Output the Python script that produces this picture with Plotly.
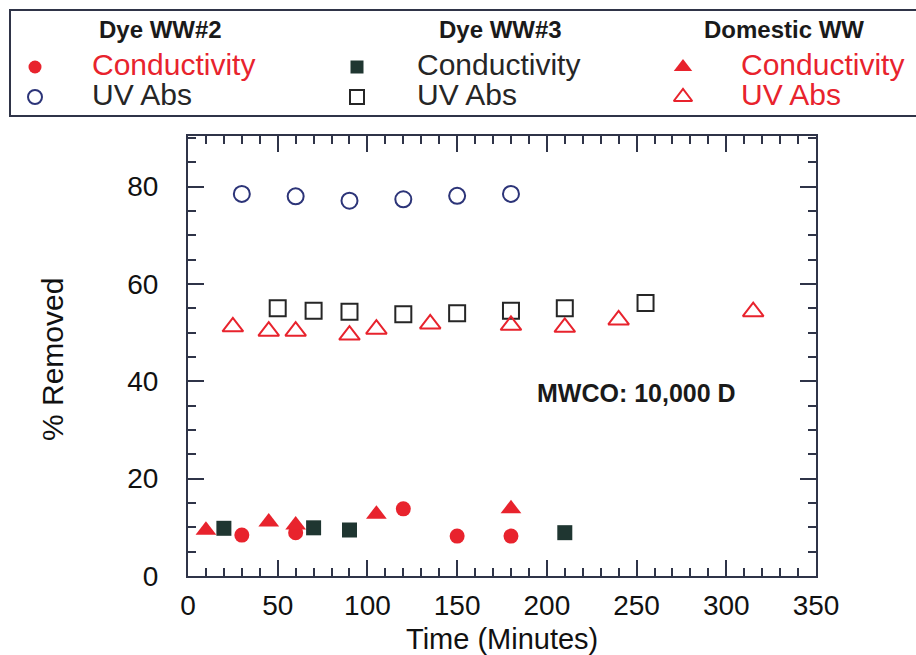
import plotly.graph_objects as go

# ---- data: % removed vs time (minutes), MWCO 10,000 D ----
dye2_cond_t = [30, 60, 120, 150, 180]
dye2_cond = [8.4, 8.9, 13.8, 8.2, 8.2]
dye2_uv_t = [30, 60, 90, 120, 150, 180]
dye2_uv = [78.5, 78.0, 77.1, 77.4, 78.1, 78.5]

dye3_cond_t = [20, 70, 90, 210]
dye3_cond = [9.8, 9.9, 9.45, 8.9]
dye3_uv_t = [50, 70, 90, 120, 150, 180, 210, 255]
dye3_uv = [55.0, 54.5, 54.3, 53.8, 54.0, 54.5, 55.0, 56.1]

dom_cond_t = [10, 45, 60, 105, 180]
dom_cond = [9.4, 11.1, 10.5, 12.7, 13.8]
dom_uv_t = [25, 45, 60, 90, 105, 135, 180, 210, 240, 315]
dom_uv = [51.2, 50.3, 50.3, 49.5, 50.7, 51.8, 51.5, 51.1, 52.6, 54.3]

groups = ["Dye WW#2", "Dye WW#3", "Domestic WW"]
row_labels = ["Conductivity", "UV Abs"]

RED = "#e8232d"
NAVY = "#2c3478"
SLATE = "#1f3631"
DARK = "#262626"
AXIS = "#2f3448"
FONT = "Liberation Sans, Arial, sans-serif"

W, H = 916, 655
# plot frame in page pixels
L, R, T, B = 188, 816, 136, 576

styles = [
    # (filled marker, open marker, label colours)
    (dict(symbol="circle", size=15, color=RED),
     dict(symbol="circle-open", size=16, color=NAVY, line=dict(width=2)),
     [RED, DARK]),
    (dict(symbol="square", size=15, color=SLATE),
     dict(symbol="square-open", size=16, color=DARK, line=dict(width=2)),
     [DARK, DARK]),
    (dict(symbol="triangle-up", size=18, color=RED),
     dict(symbol="triangle-up-open", size=18, color=RED, line=dict(width=2)),
     [RED, RED]),
]

series = [
    ((dye2_cond_t, dye2_cond), (dye2_uv_t, dye2_uv)),
    ((dye3_cond_t, dye3_cond), (dye3_uv_t, dye3_uv)),
    ((dom_cond_t, dom_cond), (dom_uv_t, dom_uv)),
]

fig = go.Figure()

for g, (st, (cond, uv)) in enumerate(zip(styles, series)):
    fig.add_trace(go.Scatter(x=uv[0], y=uv[1], mode="markers", marker=st[1],
                             name=groups[g] + " " + row_labels[1], showlegend=False))
    fig.add_trace(go.Scatter(x=cond[0], y=cond[1], mode="markers", marker=st[0],
                             name=groups[g] + " " + row_labels[0], showlegend=False))

# ---- key box above the plot, laid out on a page-pixel subplot (x2/y2) ----
col_marker_x = [35, 357, 683]
col_text_x = [90, 415, 739]
col_head_x = [97, 437, 702]
row_marker_y = [67, 97]
row_text_y = [64, 94]
head_y = 29

annotations = []
shapes = [dict(type="rect", xref="x2", yref="y2", x0=10, x1=930, y0=10, y1=116,
               line=dict(color=AXIS, width=2), fillcolor="rgba(0,0,0,0)")]

for g, st in enumerate(styles):
    annotations.append(dict(xref="x2", yref="y2", x=col_head_x[g], y=head_y,
                            xanchor="left", yanchor="middle", showarrow=False,
                            text="<b>" + groups[g] + "</b>",
                            font=dict(family=FONT, size=24, color="#1a1a1a")))
    for r in range(2):
        mk = dict(st[r])
        mk["size"] = mk["size"] - 2
        fig.add_trace(go.Scatter(x=[col_marker_x[g]], y=[row_marker_y[r]], mode="markers",
                                 marker=mk, xaxis="x2", yaxis="y2",
                                 showlegend=False, hoverinfo="skip"))
        annotations.append(dict(xref="x2", yref="y2", x=col_text_x[g], y=row_text_y[r],
                                xanchor="left", yanchor="middle", showarrow=False,
                                text=row_labels[r],
                                font=dict(family=FONT, size=30, color=st[2][r])))

# axis titles and note
annotations.append(dict(xref="x2", yref="y2", x=52, y=360,
                        xanchor="center", yanchor="middle", showarrow=False,
                        text="% Removed", textangle=-90,
                        font=dict(family=FONT, size=30, color="#111")))
annotations.append(dict(xref="x2", yref="y2", x=502, y=639,
                        xanchor="center", yanchor="middle", showarrow=False,
                        text="Time (Minutes)",
                        font=dict(family=FONT, size=29, color="#111")))
annotations.append(dict(xref="x", yref="y", x=250, y=37.6,
                        xanchor="center", yanchor="middle", showarrow=False,
                        text="<b>MWCO: 10,000 D</b>",
                        font=dict(family=FONT, size=25, color="#1a1a1a")))

axis_common = dict(showline=True, linecolor=AXIS, linewidth=2, mirror="allticks",
                   ticks="inside", ticklen=16, tickwidth=1.5, tickcolor=AXIS,
                   showgrid=False, zeroline=False, automargin=False,
                   tickfont=dict(family=FONT, size=28, color="#111"))

fig.update_layout(
    width=W, height=H,
    margin=dict(l=0, r=0, t=0, b=0, pad=0, autoexpand=False),
    paper_bgcolor="white", plot_bgcolor="rgba(0,0,0,0)",
    showlegend=False,
    xaxis=dict(domain=[L / W, R / W], range=[0, 350], tick0=0, dtick=50, ticklabelstandoff=3,
               minor=dict(dtick=10, ticks="inside", ticklen=8, tickcolor=AXIS, tickwidth=1.5),
               **axis_common),
    yaxis=dict(domain=[(H - B) / H, (H - T) / H], range=[0, 90.4], tick0=0, dtick=20,
               ticklabelstandoff=22,
               minor=dict(dtick=5, ticks="inside", ticklen=8, tickcolor=AXIS, tickwidth=1.5),
               **axis_common),
    xaxis2=dict(domain=[0, 1], range=[0, W], anchor="y2", visible=False,
                fixedrange=True, automargin=False),
    yaxis2=dict(domain=[0, 1], range=[H, 0], anchor="x2", visible=False,
                fixedrange=True, automargin=False),
    annotations=annotations,
    shapes=shapes,
)

fig.write_html("out.html")
